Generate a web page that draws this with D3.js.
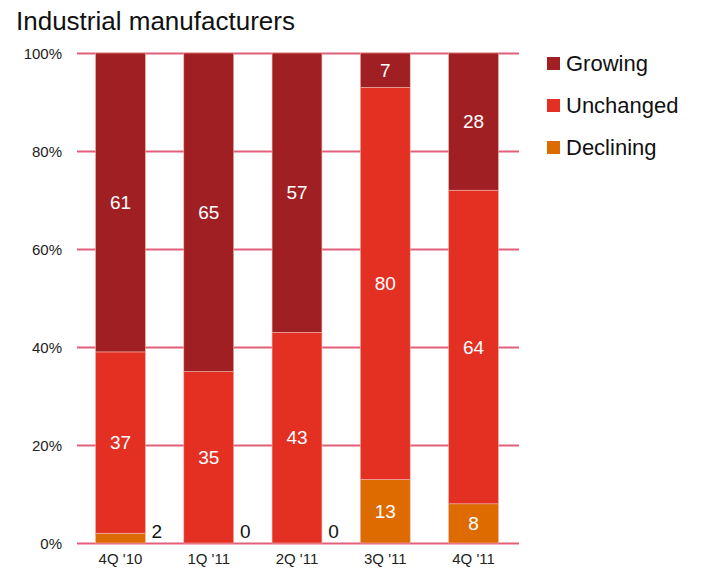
<!DOCTYPE html>
<html><head><meta charset="utf-8">
<script src="https://cdn.jsdelivr.net/npm/d3@7"></script>
<style>body{margin:0;background:#fff;}svg{display:block;font-family:"Liberation Sans",Arial,sans-serif;}</style>
</head><body>
<svg id="c" width="705" height="569"></svg>
<script>
const categories = ["4Q '10", "1Q '11", "2Q '11", "3Q '11", "4Q '11"];
const growing = [61, 65, 57, 7, 28];
const unchanged = [37, 35, 43, 80, 64];
const declining = [2, 0, 0, 13, 8];
const seriesNames = ["Growing", "Unchanged", "Declining"];
const yTicks = [0, 20, 40, 60, 80, 100];
const colors = {Growing: "#a01f22", Unchanged: "#e33022", Declining: "#dd6b00"};

const svg = d3.select("#c");
const x = d3.scaleBand().domain(categories).range([77, 517]).paddingInner(0.435).paddingOuter(0.21);
const y = d3.scaleLinear().domain([0, 100]).range([543, 53]);

svg.append("text").attr("x", 16).attr("y", 30).style("font-size", "26px").attr("fill", "#111")
  .text("Industrial manufacturers");

// gridlines
svg.append("g").selectAll("line").data(yTicks).join("line")
  .attr("x1", 77).attr("x2", 519)
  .attr("y1", d => y(d) + 0.5).attr("y2", d => y(d) + 0.5)
  .attr("stroke", "#e0607a").attr("stroke-width", 2);

// y axis labels
const yAxis = d3.axisLeft(y).tickValues(yTicks).tickSize(0).tickPadding(0).tickFormat(d => d + "%");
const ya = svg.append("g").attr("transform", "translate(62,1)").call(yAxis);
ya.attr("font-size", null).attr("font-family", null);
ya.select(".domain").remove();
ya.selectAll("text").style("font-size", "15px").attr("fill", "#222");

// x axis labels
const xAxis = d3.axisBottom(x).tickSize(0).tickPadding(0);
const xa = svg.append("g").attr("transform", "translate(0,564)").call(xAxis);
xa.attr("font-size", null).attr("font-family", null);
xa.select(".domain").remove();
xa.selectAll("text").attr("dy", 0).style("font-size", "15px").attr("fill", "#222");

// stack (Declining at bottom, then Unchanged, then Growing)
const rows = categories.map((c, i) => ({cat: c, Declining: declining[i], Unchanged: unchanged[i], Growing: growing[i]}));
const stack = d3.stack().keys(["Declining", "Unchanged", "Growing"])(rows);

const g = svg.append("g");
stack.forEach(layer => {
  const key = layer.key;
  layer.forEach(d => {
    const v = d[1] - d[0];
    if (v > 0) {
      g.append("rect").attr("x", x(d.data.cat)).attr("width", x.bandwidth())
        .attr("y", y(d[1])).attr("height", y(d[0]) - y(d[1]))
        .attr("fill", colors[key]).attr("stroke", "#f4b0a8").attr("stroke-width", 0.6);
    }
  });
});
// labels
stack.forEach(layer => {
  layer.forEach(d => {
    const v = d[1] - d[0];
    const h = y(d[0]) - y(d[1]);
    if (h >= 20) {
      g.append("text").attr("x", x(d.data.cat) + x.bandwidth() / 2).attr("y", (y(d[0]) + y(d[1])) / 2)
        .attr("dy", "0.36em").attr("text-anchor", "middle").style("font-size", "19px").attr("fill", "#fff").text(v);
    } else {
      g.append("text").attr("x", x(d.data.cat) + x.bandwidth() + 11.5).attr("y", y(0) - 5)
        .attr("text-anchor", "middle").style("font-size", "19px").attr("fill", "#111").text(v);
    }
  });
});

// legend
const lg = svg.append("g");
seriesNames.forEach((n, i) => {
  const cy = 63 + i * 42;
  lg.append("rect").attr("x", 547).attr("y", cy - 6).attr("width", 13).attr("height", 13).attr("fill", colors[n]);
  lg.append("text").attr("x", 566).attr("y", cy + 8).style("font-size", "22px").attr("fill", "#111").text(n);
});
</script>
</body></html>
